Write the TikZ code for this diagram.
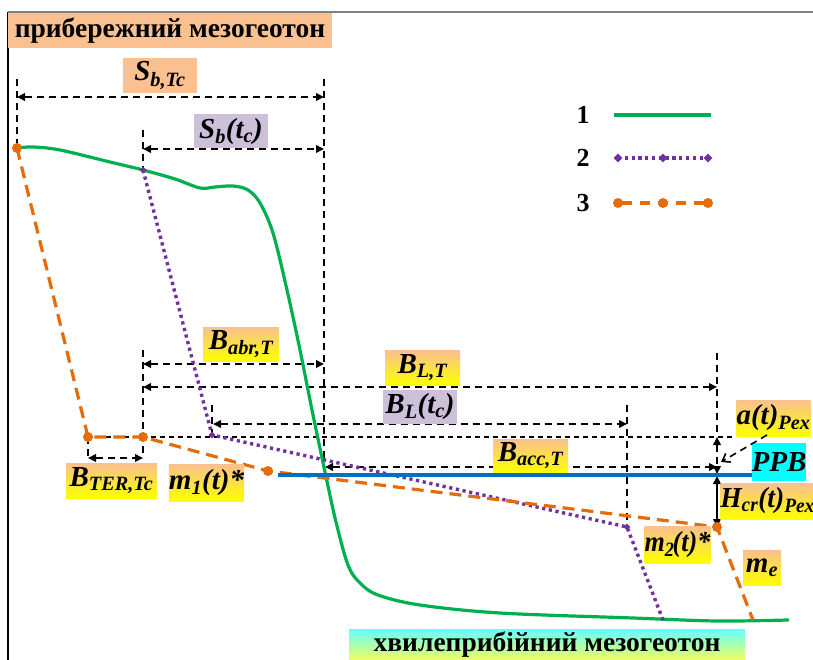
\documentclass[tikz,border=0pt]{standalone}
\usepackage{fontspec}
\setmainfont{Liberation Serif}
\usetikzlibrary{arrows.meta,shapes.geometric}
\definecolor{lor}{RGB}{250,192,144}
\definecolor{ylw}{RGB}{255,255,0}
\definecolor{lav}{RGB}{204,192,218}
\definecolor{grn}{RGB}{0,176,80}
\definecolor{prp}{RGB}{112,48,160}
\definecolor{org}{RGB}{228,108,10}
\definecolor{blu}{RGB}{0,112,192}
\definecolor{cyn}{RGB}{0,255,255}
\definecolor{lcyn}{RGB}{100,255,255}
\definecolor{lylw}{RGB}{245,255,90}
\newcommand\lsub[1]{\textsubscript{#1}}
\begin{document}
\begin{tikzpicture}[x=1pt,y=-1pt,
  >={Triangle[length=8pt,width=7.5pt]},
  dimline/.style={black,line width=1.9pt,dash pattern=on 7pt off 5pt},
  dimarr/.style={dimline,<->},
  refline/.style={black,line width=1.5pt,dash pattern=on 5pt off 4pt},
  grnline/.style={grn,line width=3.2pt,line cap=round},
  prpline/.style={prp,line width=3.4pt,dash pattern=on 3.2pt off 3.6pt},
  orgline/.style={org,line width=3.2pt,dash pattern=on 12pt off 7pt},
  bluline/.style={blu,line width=3.2pt},
  odot/.style={circle,fill=org,inner sep=0pt,minimum size=10pt},
  pdia/.style={diamond,fill=prp,inner sep=0pt,minimum size=9pt},
  lbase/.style={inner sep=0pt,font=\bfseries\itshape\fontsize{29}{32}\selectfont},
  gbox/.style={lbase,top color=lor,bottom color=ylw},
  obox/.style={lbase,fill=lor},
  lbox/.style={lbase,fill=lav},
  cbox/.style={lbase,fill=cyn},
  titlebox/.style={inner sep=0pt,font=\bfseries\fontsize{27.5}{30}\selectfont},
  legnum/.style={inner sep=0pt,font=\bfseries\fontsize{26}{28}\selectfont}
]
\useasboundingbox (0,0) rectangle (813,660);
\fill[white] (0,0) rectangle (813,660);
% frame
\coordinate (f0) at (8,12);
\coordinate (f1) at (8,660);
\coordinate (f2) at (813,12);
\draw[black,line width=1.5pt] (f0) -- (f1);
\draw[gray,line width=1.5pt] (f0) -- (f2);

% key points
\coordinate (o0) at (17,148);
\coordinate (o1) at (88,437);
\coordinate (o2) at (143,437);
\coordinate (o3) at (268,471);
\coordinate (o4) at (717,527);
\coordinate (o5) at (753,620);
\coordinate (p0) at (143,170);
\coordinate (p1) at (212,435);
\coordinate (p2) at (627,527);
\coordinate (p3) at (663,620);
\coordinate (b0) at (278,475);
\coordinate (b1) at (760,475);

% vertical guide lines
\coordinate (v17a) at (17,79);   \coordinate (v17b) at (17,148);
\coordinate (v324a) at (324,79); \coordinate (v324b) at (324,473);
\coordinate (v143a) at (143,130); \coordinate (v143b) at (143,170);
\coordinate (v143c) at (143,350); \coordinate (v143d) at (143,458);
\coordinate (v212a) at (212,405); \coordinate (v212b) at (212,437);
\coordinate (v627a) at (627,405); \coordinate (v627b) at (627,527);
\coordinate (v717a) at (717,353); \coordinate (v717b) at (717,437);
\coordinate (v88a) at (88,437);  \coordinate (v88b) at (88,458);
\draw[dimline] (v17a) -- (v17b);
\draw[dimline] (v324a) -- (v324b);
\draw[dimline] (v143a) -- (v143b);
\draw[dimline] (v143c) -- (v143d);
\draw[dimline] (v212a) -- (v212b);
\draw[dimline] (v627a) -- (v627b);
\draw[dimline] (v717a) -- (v717b);
\draw[dimline] (v88a) -- (v88b);

% dimension arrows
\coordinate (s1a) at (17,97);   \coordinate (s1b) at (324,97);
\coordinate (s2a) at (143,149); \coordinate (s2b) at (324,149);
\coordinate (d1a) at (143,364); \coordinate (d1b) at (324,364);
\coordinate (d2a) at (143,387); \coordinate (d2b) at (717,387);
\coordinate (d3a) at (213,424); \coordinate (d3b) at (627,424);
\coordinate (d4a) at (325,467); \coordinate (d4b) at (717,467);
\coordinate (d5a) at (88,458);  \coordinate (d5b) at (143,458);
\coordinate (r0) at (88,437);   \coordinate (r1) at (735,437);
\coordinate (h0) at (717,437);  \coordinate (h1) at (717,474);
\coordinate (h2) at (717,476);  \coordinate (h3) at (717,527);
\draw[dimarr] (s1a) -- (s1b);
\draw[dimarr] (s2a) -- (s2b);
\draw[dimarr] (d1a) -- (d1b);
\draw[dimarr] (d2a) -- (d2b);
\draw[dimarr] (d3a) -- (d3b);
\draw[dimarr] (d4a) -- (d4b);
\draw[dimarr] (d5a) -- (d5b);
\draw[refline] (r0) -- (r1);
\draw[dimarr] (h0) -- (h1);
\draw[black,line width=2pt,<->] (h2) -- (h3);

% profile 1 (green)
\draw[grnline] plot[smooth,tension=0.55] coordinates {
 (17,148) (33,147) (60,150) (110,162) (143,170) (175,179) (200,188) (215,187)
 (233,186) (248,190) (260,203) (273,233) (287,290) (300,350) (312,410)
 (325,472) (336,522) (348,565) (360,583) (378,595) (420,605) (500,613)
 (633,618) (717,621) (788,620)};

% profile 2 (purple)
\draw[prpline] (p0) -- (p1) -- (p2) -- (p3);
% profile 3 (orange)
\draw[orgline] (o0) -- (o1) -- (o2) -- (o3) -- (o4) -- (o5);
% PPB level
\draw[bluline] (b0) -- (b1);
% markers
\foreach \n in {o0,o1,o2,o3,o4} \node[odot] at (\n) {};
\foreach \n in {p0,p1,p2} \node[pdia,minimum size=7pt] at (\n) {};

% legend
\node[legnum] (n1) at (583,115) {1};
\node[legnum] (n2) at (583,158) {2};
\node[legnum] (n3) at (583,203) {3};
\coordinate (l1a) at (614,115); \coordinate (l1b) at (711,115);
\coordinate (l2a) at (618,158); \coordinate (l2m) at (663,158); \coordinate (l2b) at (708,158);
\coordinate (l3a) at (618,203); \coordinate (l3m) at (663,203); \coordinate (l3b) at (708,203);
\draw[grn,line width=3.2pt] (l1a) -- (l1b);
\draw[prp,line width=3.4pt,dash pattern=on 3.2pt off 3.6pt] (l2a) -- (l2b);
\foreach \n in {l2a,l2m,l2b} \node[pdia] at (\n) {};
\draw[org,line width=3.2pt,dash pattern=on 10pt off 8pt,dash phase=-4pt] (l3a) -- (l3b);
\foreach \n in {l3a,l3m,l3b} \node[odot] at (\n) {};

% labels
\node[titlebox,fill=lor,minimum width=324pt,minimum height=35pt] (title) at (170,30.5) {прибережний мезогеотон};
\node[titlebox,top color=lcyn,bottom color=lylw,minimum width=396pt,minimum height=32pt] (bottom) at (547,645) {хвилеприбійний мезогеотон};
\node[obox,minimum width=74pt,minimum height=35pt] (sbtc) at (160,75.5) {S\lsub{b,Tc}};
\node[lbox,minimum width=74pt,minimum height=34pt] (sbt) at (231,131.5) {S\lsub{b}(t\lsub{c})};
\node[gbox,minimum width=76pt,minimum height=34pt] (babr) at (241,344) {B\lsub{abr,T}};
\node[gbox,minimum width=75pt,minimum height=35pt] (blt) at (422.5,367.5) {B\lsub{L,T}};
\node[lbox,minimum width=74pt,minimum height=34pt] (bltc) at (420,407) {B\lsub{L}(t\lsub{c})};
\node[gbox,minimum width=75pt,minimum height=33pt] (bacc) at (530.5,455.5) {B\lsub{acc,T}};
\node[gbox,minimum width=91pt,minimum height=35pt] (bter) at (111.5,480.5) {B\lsub{TER,Tc}};
\node[gbox,minimum width=73pt,minimum height=37pt] (m1) at (206.5,482.5) {m\lsub{1}(t)*};
\node[gbox,minimum width=73pt,minimum height=36pt] (at) at (773.5,418) {a(t)\lsub{Pex}};
\node[cbox,minimum width=54pt,minimum height=38pt] (ppb) at (779,462) {PPB};
\node[gbox,minimum width=89pt,minimum height=36pt] (hcr) at (767.5,501) {\scalebox{0.95}[1]{H\lsub{cr}(t)\lsub{Pex}}};
\node[gbox,minimum width=65pt,minimum height=37pt] (m2) at (677.5,544.5) {\scalebox{0.9}[1]{m\lsub{2}\kern-2pt(t)*}};
\node[gbox,minimum width=38pt,minimum height=35pt] (me) at (762,567.5) {m\lsub{e}};

% pointer from a(t)Pex to the level
\coordinate (pt0) at (767,435);
\coordinate (pt1) at (721,462);
\draw[black,line width=1.6pt,dash pattern=on 7pt off 5pt,-{Straight Barb[length=7pt,width=10pt]}] (pt0) -- (pt1);
\end{tikzpicture}
\end{document}
